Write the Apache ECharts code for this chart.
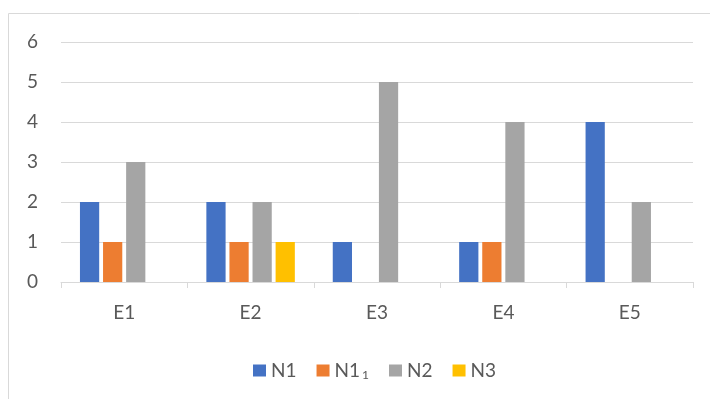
<!DOCTYPE html>
<html>
<head>
<meta charset="utf-8">
<script src="https://cdn.jsdelivr.net/npm/echarts@6/dist/echarts.min.js"></script>
<style>
    html, body { margin: 0; padding: 0; background: #fff; }
    #chart { width: 710px; height: 399px; }
</style>
</head>
<body>
<div id="chart"></div>
<script>
    const categories = ['E1', 'E2', 'E3', 'E4', 'E5'];
    const seriesNames = ['N1', 'N1₁', 'N2', 'N3'];
    const n1 = [2, 2, 1, 1, 4];
    const n1sub = [1, 1, 0, 1, 0];
    const n2 = [3, 2, 5, 4, 2];
    const n3 = [0, 1, 0, 0, 0];
    const yTicks = [0, 1, 2, 3, 4, 5, 6];

    const colors = ['#4472C4', '#ED7D31', '#A5A5A5', '#FFC000'];
    const font = 'Lato, "Liberation Sans", sans-serif';

    const chart = echarts.init(document.getElementById('chart'));

    // 图例里 N1 的下标用富文本画
    const option = {
        animation: false,
        color: colors,
        textStyle: { fontFamily: font },
        graphic: [{
            type: 'rect',
            shape: { x: 8.5, y: 13.5, width: 720, height: 400 },
            style: { fill: null, stroke: '#D9D9D9', lineWidth: 1 }
        }],
        grid: { left: 61, right: 17, top: 42, bottom: 117 },
        legend: {
            top: 356,
            left: 248,
            itemWidth: 13,
            itemHeight: 12,
            itemGap: 20,
            icon: 'rect',
            formatter: function (name) {
                if (name === 'N1₁') return '{a|N1}{b|1}';
                return name;
            },
            textStyle: {
                fontSize: 19, color: '#595959', fontFamily: font,
                rich: {
                    a: { fontSize: 19, color: '#595959', fontFamily: font },
                    b: { fontSize: 12, color: '#595959', fontFamily: font, padding: [9, 0, 0, 2] }
                }
            },
            data: seriesNames
        },
        xAxis: {
            type: 'category',
            data: categories,
            axisLine: { lineStyle: { color: '#D9D9D9', width: 1 } },
            axisTick: { show: true, length: 6, lineStyle: { color: '#D9D9D9' } },
            axisLabel: { fontSize: 19, color: '#595959', margin: 21 }
        },
        yAxis: {
            type: 'value',
            min: yTicks[0],
            max: yTicks[yTicks.length - 1],
            interval: 1,
            axisLine: { show: false },
            axisTick: { show: false },
            axisLabel: { fontSize: 19, color: '#595959', margin: 23 },
            splitLine: { lineStyle: { color: '#D9D9D9', width: 1 } }
        },
        series: [n1, n1sub, n2, n3].map(function (vals, i) {
            return {
                name: seriesNames[i],
                type: 'bar',
                data: vals,
                barGap: '20%',
                barCategoryGap: '30%'
            };
        })
    };

    chart.setOption(option);
</script>
</body>
</html>
